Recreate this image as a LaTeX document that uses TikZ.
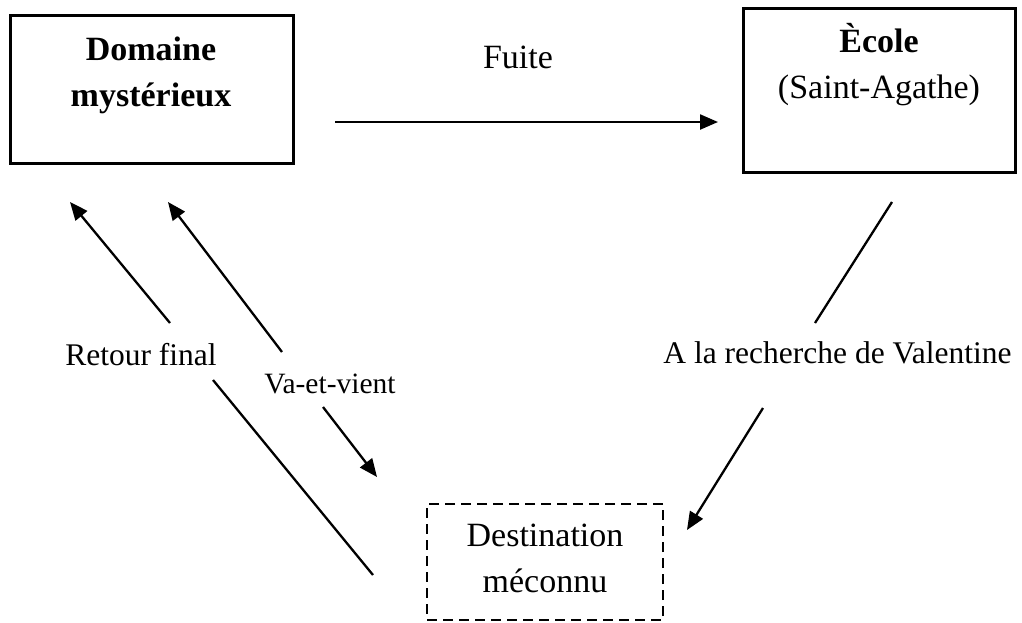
\documentclass[tikz,border=0pt]{standalone}
\usepackage{fontspec}
\setmainfont{Liberation Serif}
\usetikzlibrary{arrows.meta}
\tikzset{
  box/.style={draw, line width=3pt, inner sep=0pt},
  dbox/.style={draw, line width=2.6pt, dash pattern=on 10pt off 6pt, inner sep=0pt},
  boxtext/.style={font=\fontsize{34}{46}\selectfont, align=center, anchor=base, inner sep=0pt},
  lbl/.style={font=\fontsize{31.5}{38}\selectfont, anchor=base, inner sep=0pt},
  smalllbl/.style={font=\fontsize{29.5}{36}\selectfont, anchor=base, inner sep=0pt},
  conn/.style={line width=2.3pt},
  arr/.style={line width=2.3pt, -{Triangle[length=18pt,width=15pt]}},
}
\begin{document}
\begin{tikzpicture}[x=1pt,y=-1pt]
\useasboundingbox (0,0) rectangle (1022,622);
% boxes
\node[box, minimum width=283pt, minimum height=148pt] (dom) at (151.5,89) {};
\node[box, minimum width=272pt, minimum height=164pt] (ecole) at (879,90) {};
\node[dbox, minimum width=236pt, minimum height=116pt] (dest) at (545,562) {};
% box texts (anchor base = last line)
\node[boxtext] (domt) at (151,106) {\textbf{Domaine}\\\textbf{mystérieux}};
\node[boxtext] (ecolet) at (879,98) {\textbf{Ècole}\\(Saint-Agathe)};
\node[boxtext] (destt) at (545,592) {Destination\\méconnu};
% coordinates
\coordinate (f1) at (335,122); \coordinate (f2) at (718,122);
\coordinate (r1) at (373,575); \coordinate (r2) at (213,380);
\coordinate (r3) at (170,323); \coordinate (r4) at (70,202);
\coordinate (v1) at (282,352); \coordinate (v2) at (168,202);
\coordinate (v3) at (323,407); \coordinate (v4) at (377,477);
\coordinate (a1) at (892,202); \coordinate (a2) at (815,323);
\coordinate (a3) at (763,408); \coordinate (a4) at (687,530);
% connectors
\draw[arr] (f1) -- (f2);
\draw[conn] (r1) -- (r2);
\draw[arr] (r3) -- (r4);
\draw[arr] (v1) -- (v2);
\draw[arr] (v3) -- (v4);
\draw[conn] (a1) -- (a2);
\draw[arr] (a3) -- (a4);
% labels
\node[lbl, font=\fontsize{34}{40}\selectfont] (fuite) at (518,68) {Fuite};
\node[lbl] (retour) at (141,365) {Retour final};
\node[lbl] (recherche) at (837.5,363) {A la recherche de Valentine};
\node[smalllbl] (va) at (330,393) {Va-et-vient};
\end{tikzpicture}
\end{document}
